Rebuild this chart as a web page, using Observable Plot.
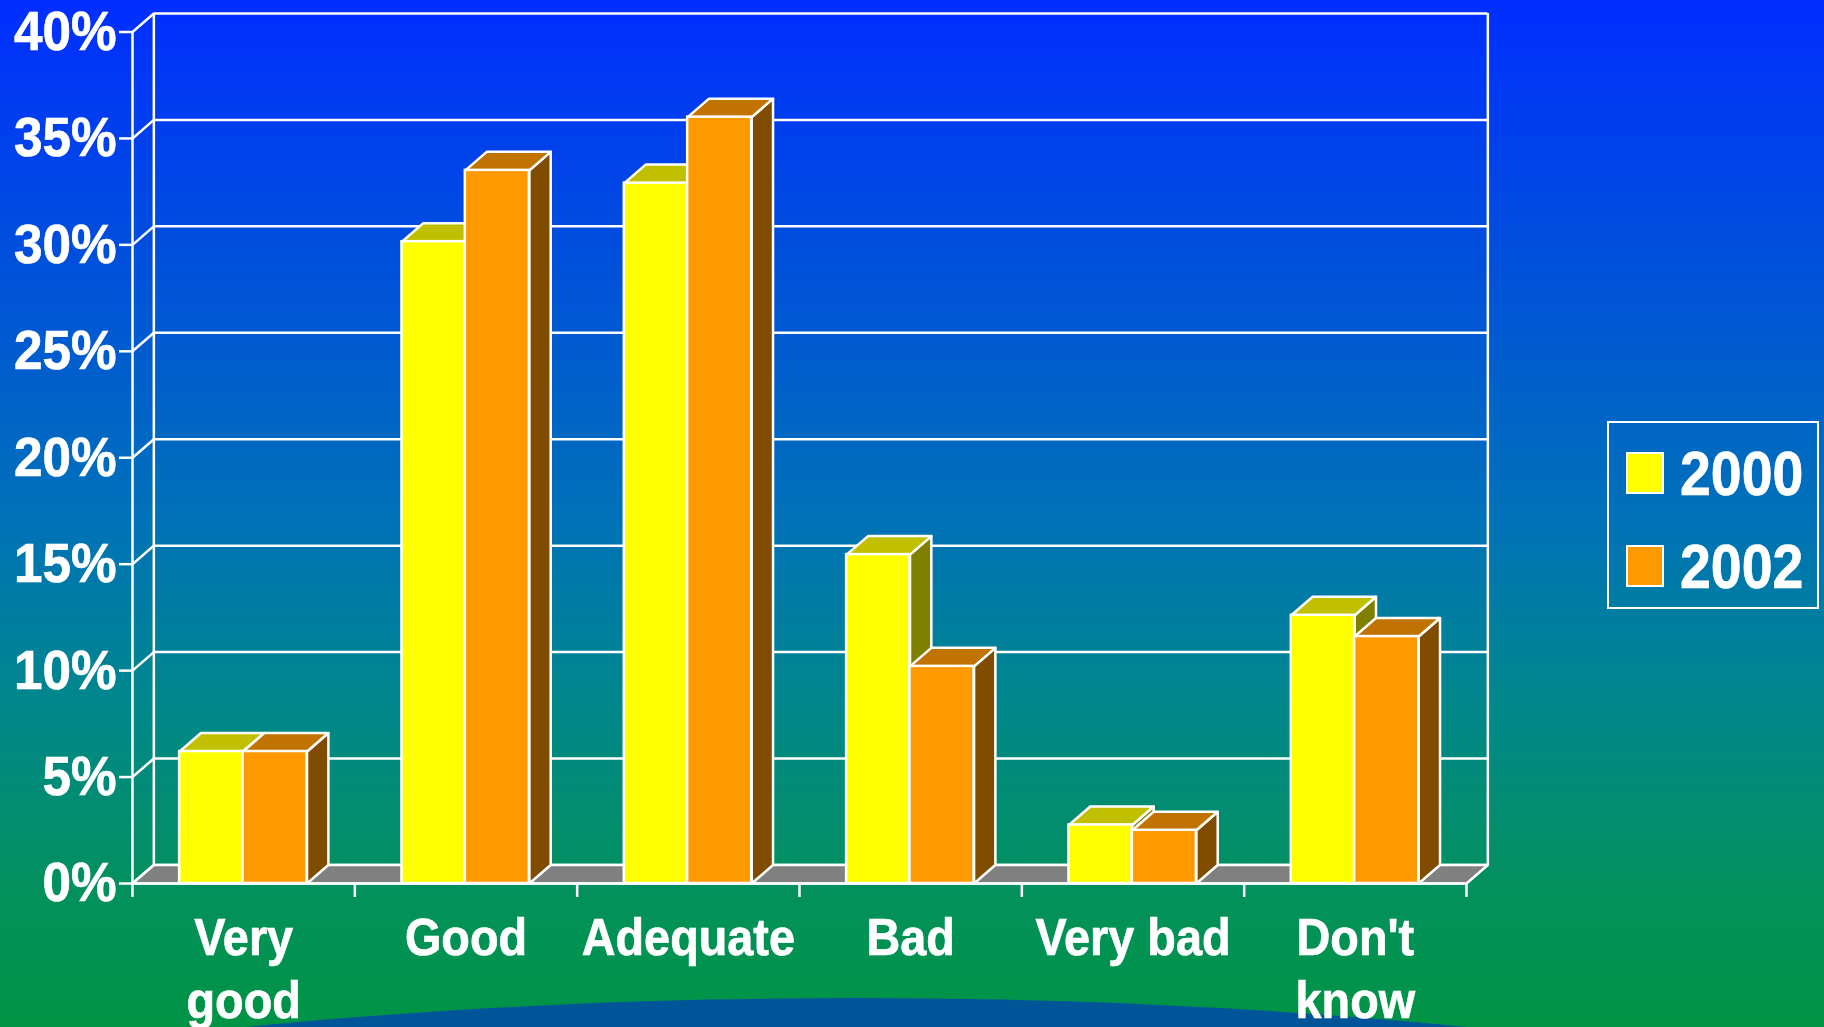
<!DOCTYPE html>
<html>
<head>
<meta charset="utf-8">
<script src="https://cdn.jsdelivr.net/npm/d3@7"></script>
<script src="https://cdn.jsdelivr.net/npm/@observablehq/plot@0.6"></script>
<style>
html,body{margin:0;padding:0;width:1824px;height:1027px;overflow:hidden}
body{position:relative;background:linear-gradient(180deg,#002eff 0,#0062c8 400px,#0072b8 520px,#00878c 700px,#03905f 880px,#009444 1027px);font-family:"Liberation Sans",Arial,sans-serif;color:#fff}
#arc{position:absolute;left:-644px;top:998px;width:3000px;height:669px;border-radius:50%;background:#005599}
#chart{position:absolute;left:0;top:0}
#legend{position:absolute;left:1607px;top:421px;width:208px;height:184px;border:2px solid #fff;box-sizing:content-box}
#legend .sw{position:absolute;left:17px;width:34px;height:38px;border:2px solid #fff}
#legend .lb{position:absolute;left:71px;font-size:63px;font-weight:700;line-height:63px;transform:scaleX(.88);transform-origin:0 0;-webkit-text-stroke:.7px #fff}
</style>
</head>
<body>
<div id="arc"></div>
<div id="chart"></div>
<div id="legend"></div>
<script>
const categories = [["Very","good"],["Good"],["Adequate"],["Bad"],["Very bad"],["Don't","know"]];
const seriesNames = ["2000","2002"];
const values2000 = [6.2,30.15,32.9,15.45,2.75,12.6];
const values2002 = [6.2,33.5,36.0,10.2,2.5,11.6];
const yTicks = [0,5,10,15,20,25,30,35,40];
const frontColors = ["#ffff00","#ff9900"];
const topColors = ["#c0c000","#c07300"];
const sideColors = ["#808000","#804d00"];

const depthX = 0.096, depthY = 0.87;
const slots = [[0.212,0.497],[0.497,0.785]];
const n = categories.length;

function faces(values, s){
  const polys = [], fronts = [];
  values.forEach((v,i)=>{
    const xl = i+slots[s][0], xr = i+slots[s][1];
    const side = [[xr,0],[xr+depthX,depthY],[xr+depthX,v+depthY],[xr,v]];
    const top = [[xl,v],[xr,v],[xr+depthX,v+depthY],[xl+depthX,v+depthY]];
    side.forEach(p=>polys.push({x:p[0],y:p[1],z:`s${s}${i}`,f:sideColors[s]}));
    top.forEach(p=>polys.push({x:p[0],y:p[1],z:`t${s}${i}`,f:topColors[s]}));
    fronts.push({x1:xl,x2:xr,y1:0,y2:v});
  });
  return {polys,fronts};
}
const a = faces(values2000,0), b = faces(values2002,1);
const floor = [[0,0],[n,0],[n+depthX,depthY],[depthX,depthY]].map(p=>({x:p[0],y:p[1]}));
const labelRows = categories.flatMap((ls,i)=>ls.map((t,j)=>({x:i+.5,t,j})));
const lw = 2.5;
const polyOpts = {x:"x",y:"y",z:"z",fill:"f",stroke:"white",strokeWidth:lw,curve:"linear-closed"};
const white = {stroke:"white",strokeWidth:lw};
const textStyle = {text:"t",fill:"white",fontSize:52,fontWeight:700,textAnchor:"middle"};

const plot = Plot.plot({
  width:1824,height:1027,
  marginLeft:132,marginRight:358,marginTop:31.5,marginBottom:144,
  style:{background:"transparent",overflow:"visible",fontFamily:"'Liberation Sans',Arial,sans-serif"},
  x:{domain:[0,n],axis:null},
  y:{domain:[0,40],axis:null},
  color:{type:"identity"},
  marks:[
    Plot.ruleY(yTicks,{y:d=>d+depthY,x1:depthX,x2:n+depthX,...white}),
    Plot.link(yTicks,{x1:0,y1:d=>d,x2:depthX,y2:d=>d+depthY,...white}),
    Plot.ruleX([0],{y1:0,y2:40,...white}),
    Plot.ruleX([depthX,n+depthX],{y1:depthY,y2:40+depthY,...white}),
    Plot.line(floor,{x:"x",y:"y",fill:"#808080",stroke:"white",strokeWidth:lw,curve:"linear-closed"}),
    Plot.axisY({ticks:yTicks,tickFormat:d=>d+"%",tickSize:13,tickPadding:3,fontSize:56,fontWeight:700,color:"white",strokeWidth:lw,label:null}),
    Plot.axisX({ticks:d3.range(0,n+1),tickSize:14,fill:"none",stroke:"white",strokeWidth:lw,label:null}),
    Plot.line(a.polys,polyOpts),
    Plot.rect(a.fronts,{x1:"x1",x2:"x2",y1:"y1",y2:"y2",fill:frontColors[0],...white}),
    Plot.line(b.polys,polyOpts),
    Plot.rect(b.fronts,{x1:"x1",x2:"x2",y1:"y1",y2:"y2",fill:frontColors[1],...white}),
    Plot.ruleY([0],{x1:0,x2:n,...white}),
    Plot.text(labelRows.filter(d=>d.j===0),{x:"x",y:()=>0,dy:54.5,...textStyle}),
    Plot.text(labelRows.filter(d=>d.j===1),{x:"x",y:()=>0,dy:118,...textStyle})
  ]
});
document.getElementById("chart").appendChild(plot);
d3.select(plot).selectAll("text").each(function(){
  const len = this.getComputedTextLength();
  if(len>0){
    const isPct = this.textContent.endsWith("%");
    this.setAttribute("textLength",(len*(isPct?0.915:0.9)).toFixed(1));
    this.setAttribute("lengthAdjust","spacingAndGlyphs");
    this.setAttribute("stroke","white");
    this.setAttribute("stroke-width","0.7");
  }
});

const legend = document.getElementById("legend");
const swTops = [29,122], lbTops = [19,112];
seriesNames.forEach((name,i)=>{
  const sw = document.createElement("div");
  sw.className="sw"; sw.style.top=swTops[i]+"px"; sw.style.background=frontColors[i];
  const lb = document.createElement("div");
  lb.className="lb"; lb.style.top=lbTops[i]+"px"; lb.textContent=name;
  legend.append(sw,lb);
});
</script>
</body>
</html>
